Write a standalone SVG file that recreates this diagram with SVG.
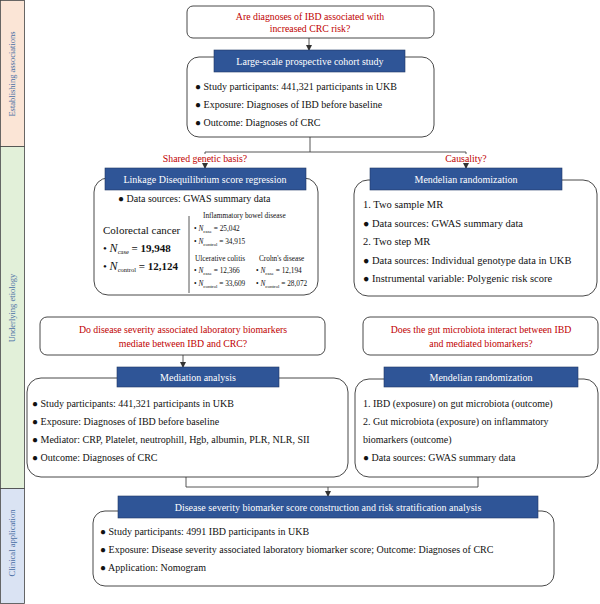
<svg xmlns="http://www.w3.org/2000/svg" width="600" height="604" viewBox="0 0 600 604">
<defs>
<marker id="arr" markerWidth="6" markerHeight="6" refX="5" refY="3" orient="auto" markerUnits="userSpaceOnUse">
<path d="M0,0 L6,3 L0,6 Z" fill="#333"/>
</marker>
</defs>
<style>
text{font-family:"Liberation Serif","Times New Roman",serif;fill:#111;font-size:10px}
text.q{fill:#c00000;font-size:9.8px;text-anchor:middle}
text.h{fill:#fff;font-size:10px;text-anchor:middle}
.hdr{fill:#2f5597;stroke:#1f3864;stroke-width:0.6}
.box{fill:#fff;stroke:#333;stroke-width:0.9}
text.side{font-size:8.5px;fill:#4a6fa5;text-anchor:middle}
text.sm{font-size:7.3px}
text.md{font-size:11px}
text.nl{font-size:11px}
text.mr{font-size:10.5px}
.ln{fill:none;stroke:#444;stroke-width:0.9}
</style>
<rect width="600" height="604" fill="#fff"/>
<g id="sidebar">
<rect x="0.5" y="0.5" width="24" height="146" fill="#fbe5d6" stroke="#444" stroke-width="0.8"/>
<rect x="0.5" y="146.5" width="24" height="342" fill="#e2f0d9" stroke="#444" stroke-width="0.8"/>
<rect x="0.5" y="488.5" width="24" height="115" fill="#dae3f3" stroke="#444" stroke-width="0.8"/>
<text class="side" transform="translate(15,74) rotate(-90)">Establishing associations</text>
<text class="side" transform="translate(15,308) rotate(-90)">Underlying etiology</text>
<text class="side" transform="translate(15,543) rotate(-90)">Clinical application</text>
</g>
<g id="connectors">
<line class="ln" x1="309" y1="38" x2="309" y2="50" marker-end="url(#arr)"/>
<polyline class="ln" points="310,137 310,152"/>
<line class="ln" x1="205" y1="152" x2="466" y2="152"/>
<line class="ln" x1="205" y1="152" x2="205" y2="154"/>
<line class="ln" x1="466" y1="152" x2="466" y2="154"/>
<line class="ln" x1="205" y1="163" x2="205" y2="168" marker-end="url(#arr)"/>
<line class="ln" x1="466" y1="163" x2="466" y2="168" marker-end="url(#arr)"/>
<line class="ln" x1="183" y1="355" x2="183" y2="367" marker-end="url(#arr)"/>
<polyline class="ln" points="186,477 186,487 478,487 478,477"/>
<line class="ln" x1="328" y1="487" x2="328" y2="496" marker-end="url(#arr)"/>
</g>
<g id="q1">
<rect class="box" x="187" y="6" width="247" height="32" rx="6"/>
<text class="q" x="310" y="20">Are diagnoses of IBD associated with</text>
<text class="q" x="310" y="32">increased CRC risk?</text>
</g>
<g id="cohort">
<rect class="box" x="187" y="57" width="247" height="80" rx="12"/>
<rect class="hdr" x="214" y="50" width="191" height="22"/>
<text class="h" x="310" y="64.5">Large-scale prospective cohort study</text>
<text x="195" y="90">● Study participants: 441,321 participants in UKB</text>
<text x="195" y="108">● Exposure: Diagnoses of IBD before baseline</text>
<text x="195" y="126">● Outcome: Diagnoses of CRC</text>
</g>
<text class="q" x="205" y="162">Shared genetic basis?</text>
<text class="q" x="466" y="162">Causality?</text>
<g id="ldsc">
<rect class="box" x="94" y="178" width="224" height="117" rx="14"/>
<rect class="hdr" x="105" y="168" width="201" height="22"/>
<text class="h" x="205" y="182.5">Linkage Disequilibrium score regression</text>
<text x="118" y="202">● Data sources: GWAS summary data</text>
<line class="ln" x1="189" y1="216" x2="189" y2="293"/>
<text class="md" x="103" y="234">Colorectal cancer</text>
<text class="nl" x="103" y="252">• <tspan font-style="italic" font-size="12">N</tspan><tspan font-size="6.5" dy="2">case</tspan><tspan dy="-2" font-weight="bold"> = 19,948</tspan></text>
<text class="nl" x="103" y="270">• <tspan font-style="italic" font-size="12">N</tspan><tspan font-size="6.5" dy="2">control</tspan><tspan dy="-2" font-weight="bold"> = 12,124</tspan></text>
<text class="sm" x="203" y="218">Inflammatory bowel disease</text>
<text class="sm" x="194" y="231">• <tspan font-style="italic">N</tspan><tspan font-size="5" dy="1.5">case</tspan><tspan dy="-1.5"> = 25,042</tspan></text>
<text class="sm" x="194" y="244">• <tspan font-style="italic">N</tspan><tspan font-size="5" dy="1.5">control</tspan><tspan dy="-1.5"> = 34,915</tspan></text>
<text class="sm" x="195" y="261">Ulcerative colitis</text>
<text class="sm" x="259" y="261">Crohn's disease</text>
<text class="sm" x="194" y="273">• <tspan font-style="italic">N</tspan><tspan font-size="5" dy="1.5">case</tspan><tspan dy="-1.5"> = 12,366</tspan></text>
<text class="sm" x="256" y="273">• <tspan font-style="italic">N</tspan><tspan font-size="5" dy="1.5">case</tspan><tspan dy="-1.5"> = 12,194</tspan></text>
<text class="sm" x="194" y="286">• <tspan font-style="italic">N</tspan><tspan font-size="5" dy="1.5">control</tspan><tspan dy="-1.5"> = 33,609</tspan></text>
<text class="sm" x="256" y="286">• <tspan font-style="italic">N</tspan><tspan font-size="5" dy="1.5">control</tspan><tspan dy="-1.5"> = 28,072</tspan></text>
</g>
<g id="mr1">
<rect class="box" x="354" y="180" width="243" height="116" rx="14"/>
<rect class="hdr" x="370" y="168" width="192" height="22"/>
<text class="h" x="466" y="182.5">Mendelian randomization</text>
<text class="mr" x="363" y="208">1. Two sample MR</text>
<text class="mr" x="363" y="227">● Data sources: GWAS summary data</text>
<text class="mr" x="363" y="245">2. Two step MR</text>
<text class="mr" x="363" y="264">●  Data sources: Individual genotype data in UKB</text>
<text class="mr" x="363" y="282">●  Instrumental variable: Polygenic risk score</text>
</g>
<g id="q2">
<rect class="box" x="40" y="317" width="285" height="38" rx="7"/>
<text class="q" x="183" y="333">Do disease severity associated laboratory biomarkers</text>
<text class="q" x="183" y="347">mediate between IBD and CRC?</text>
</g>
<g id="q3">
<rect class="box" x="363" y="317" width="235" height="38" rx="7"/>
<text class="q" x="481" y="333">Does the gut microbiota interact between IBD</text>
<text class="q" x="481" y="347">and mediated biomarkers?</text>
</g>
<g id="mediation">
<rect class="box" x="27" y="378" width="321" height="99" rx="14"/>
<rect class="hdr" x="117" y="367" width="162" height="20"/>
<text class="h" x="198" y="380.5">Mediation analysis</text>
<text x="32" y="407">● Study participants: 441,321 participants in UKB</text>
<text x="32" y="425">● Exposure: Diagnoses of IBD before baseline</text>
<text x="32" y="443">● Mediator: CRP, Platelet, neutrophill, Hgb, albumin, PLR, NLR, SII</text>
<text x="32" y="461">● Outcome: Diagnoses of CRC</text>
</g>
<g id="mr2">
<rect class="box" x="355" y="379" width="243" height="98" rx="14"/>
<rect class="hdr" x="384" y="367" width="194" height="20"/>
<text class="h" x="481" y="380.5">Mendelian randomization</text>
<text x="363" y="407">1. IBD (exposure) on gut microbiota (outcome)</text>
<text x="363" y="425">2. Gut microbiota (exposure) on inflammatory</text>
<text x="363" y="443">biomarkers (outcome)</text>
<text x="363" y="461">● Data sources: GWAS summary data</text>
</g>
<g id="score">
<rect class="box" x="93" y="511" width="461" height="75" rx="12"/>
<rect class="hdr" x="118" y="496" width="420" height="22"/>
<text class="h" x="328" y="510.5">Disease severity biomarker score construction and risk stratification analysis</text>
<text x="100" y="535">● Study participants: 4991 IBD participants in UKB</text>
<text x="100" y="553">● Exposure: Disease severity associated laboratory biomarker score; Outcome: Diagnoses of CRC</text>
<text x="100" y="571">● Application: Nomogram</text>
</g>
</svg>
